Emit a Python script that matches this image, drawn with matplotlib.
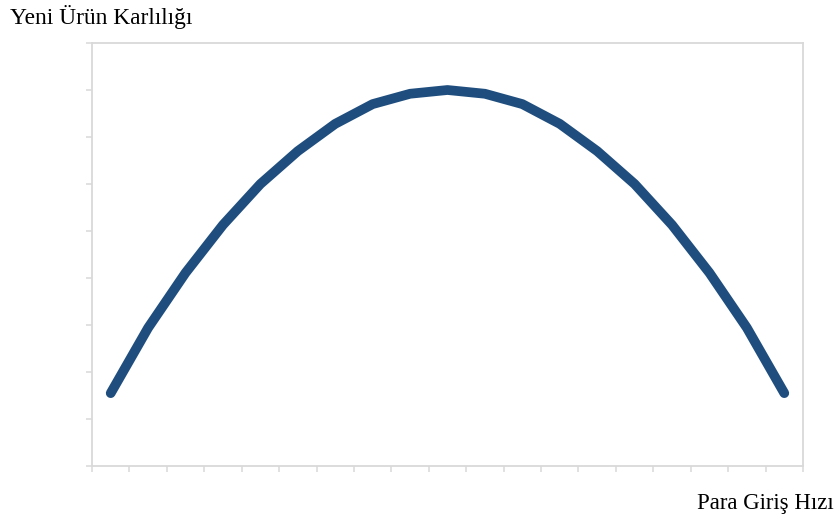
import matplotlib.pyplot as plt
import numpy as np

# kategoriler (para giris hizi) ve karlilik degerleri
kategoriler = list(range(1, 20))
karlilik = [1.55, 2.94, 4.11, 5.13, 6.00, 6.70, 7.28, 7.70, 7.92, 8.00,
            7.92, 7.70, 7.28, 6.70, 6.00, 5.13, 4.11, 2.94, 1.55]

plt.rcParams['font.family'] = ['Liberation Serif', 'DejaVu Serif']

fig = plt.figure(figsize=(8.39, 5.22), dpi=100)
ax = fig.add_axes([92/839, 1 - 466/522, 711/839, 423/522])

x = np.arange(len(kategoriler))
ax.plot(x, karlilik, color="#1F4E7E", lw=7, solid_capstyle="round",
        solid_joinstyle="round")

ax.set_xlim(-0.5, len(kategoriler) - 0.5)
ax.set_ylim(0, 9)
ax.set_xticks(np.arange(-0.5, len(kategoriler), 1.0))
ax.set_yticks(np.arange(0, 10, 1))
ax.set_xticklabels([])
ax.set_yticklabels([])

for s in ax.spines.values():
    s.set_color("#D9D9D9")
    s.set_linewidth(1.3)
ax.tick_params(color="#D9D9D9", length=4.5, width=1.1, direction="out")

fig.text(10/839, 1 - 17/522, "Yeni Ürün Karlılığı", fontsize=16.8,
         ha="left", va="center")
fig.text(834/839, 1 - 503/522, "Para Giriş Hızı", fontsize=16.4,
         ha="right", va="center")

fig.savefig("out.png", dpi=100)
